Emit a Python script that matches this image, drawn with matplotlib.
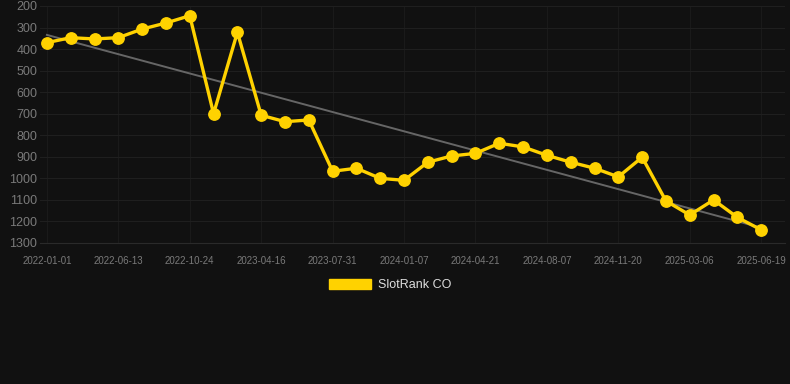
import matplotlib

matplotlib.use("Agg")
import matplotlib.pyplot as plt
import numpy as np
from matplotlib.patches import Patch

# rank values, one per (evenly spaced) sample
ranks = [370, 347, 353, 347, 307, 279, 245, 700, 322, 707,
         737, 729, 967, 953, 1000, 1009, 925, 896, 884, 837,
         854, 893, 925, 953, 993, 902, 1105, 1170, 1100, 1181,
         1239]
# labels shown on every third sample
tick_labels = ["2022-01-01", "2022-06-13", "2022-10-24", "2023-04-16",
               "2023-07-31", "2024-01-07", "2024-04-21", "2024-08-07",
               "2024-11-20", "2025-03-06", "2025-06-19"]
series_name = "SlotRank CO"

bg = "#111111"
gold = "#FFD200"

plt.rcParams["font.family"] = ["Liberation Sans", "DejaVu Sans"]

x = np.arange(len(ranks))
y = np.array(ranks)

fig = plt.figure(figsize=(7.9, 3.84), dpi=100, facecolor=bg)
ax = fig.add_axes([40 / 790, 1 - 243 / 384, 745 / 790, 237 / 384])
ax.set_facecolor(bg)

# linear trend
a, b = np.polyfit(x, y, 1)
ax.plot(x, a * x + b, color="#666666", lw=1.4, zorder=2)

ax.plot(x, y, color=gold, lw=2.4, marker="o", ms=8.2, zorder=3)

ax.set_ylim(1300, 200)
ax.set_yticks(np.arange(200, 1301, 100))
ax.set_xlim(-0.29, len(ranks) - 1 + 1.0)
ax.set_xticks(x[::3])
ax.set_xticklabels(tick_labels)

ax.grid(True, axis="y", color="#1f1f1f", lw=0.8)
ax.grid(True, axis="x", color="#1a1a1a", lw=0.8)
ax.set_axisbelow(True)
for s in ax.spines.values():
    s.set_visible(False)
ax.spines["bottom"].set_visible(True)
ax.spines["bottom"].set_color("#2a2a2a")
ax.tick_params(axis="x", length=0, labelsize=7, colors="#7a7a7a", pad=9)
ax.tick_params(axis="y", length=0, labelsize=9, colors="#7a7a7a", pad=2)

fig.legend(handles=[Patch(color=gold, label=series_name)],
           loc="center", bbox_to_anchor=(390 / 790, 1 - 285 / 384),
           frameon=False, fontsize=9, labelcolor="#dddddd",
           handlelength=3.4, handleheight=0.9, handletextpad=0.5)

fig.savefig("out.png", dpi=100, facecolor=bg)
